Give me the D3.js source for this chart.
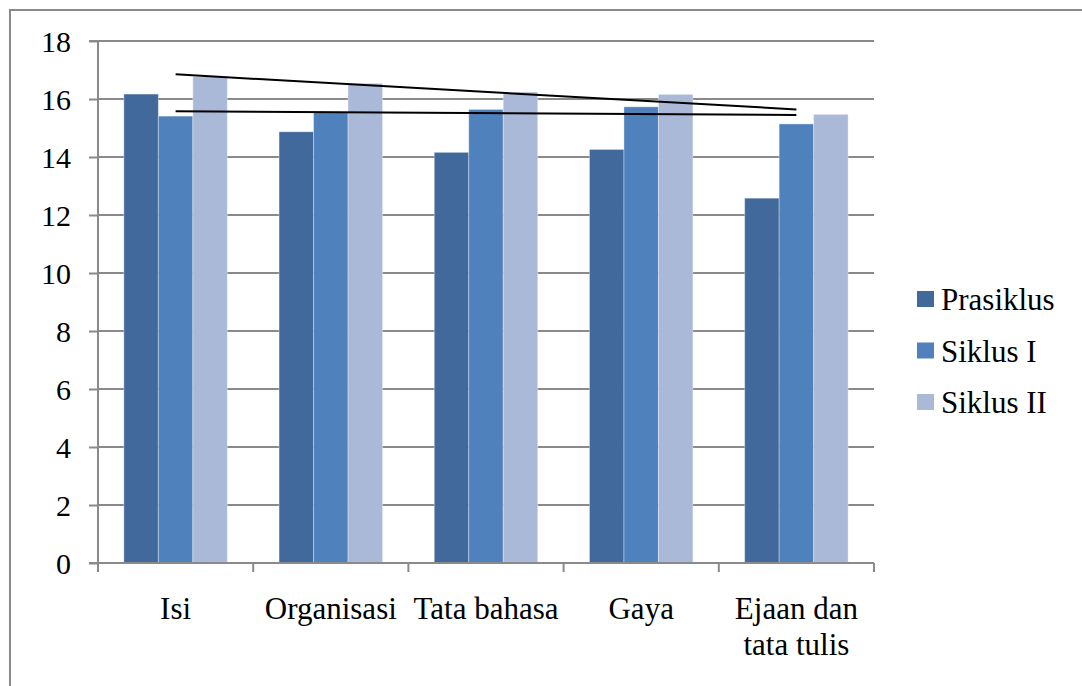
<!DOCTYPE html>
<html>
<head>
<meta charset="utf-8">
<script src="https://cdn.jsdelivr.net/npm/d3@7"></script>
<style>
  html, body { margin: 0; padding: 0; background: #fff; }
  svg { display: block; }
</style>
</head>
<body>
<svg id="chart" width="1082" height="686" font-family="Liberation Serif"></svg>
<script>
// ---- data ----
const categories = ["Isi", "Organisasi", "Tata bahasa", "Gaya", "Ejaan dan tata tulis"];
const categoryLabelLines = [["Isi"], ["Organisasi"], ["Tata bahasa"], ["Gaya"], ["Ejaan dan", "tata tulis"]];
const seriesNames = ["Prasiklus", "Siklus I", "Siklus II"];
const prasiklus = [16.17, 14.87, 14.16, 14.26, 12.58];
const siklusI = [15.41, 15.53, 15.64, 15.73, 15.14];
const siklusII = [16.77, 16.54, 16.24, 16.16, 15.47];
const yTickValues = [0, 2, 4, 6, 8, 10, 12, 14, 16, 18];
// hand-drawn lines: value at first category centre and at last category centre
const upperLine = [16.85, 15.64];
const lowerLine = [15.58, 15.45];

const seriesValues = [prasiklus, siklusI, siklusII];
const colors = ["#41699C", "#4F81BD", "#AAB9D7"];

// ---- layout ----
const svg = d3.select("#chart");
const plotLeft = 98, plotRight = 874, plotTop = 41, plotBottom = 563;
const fontFamily = "Liberation Serif";
const fontSize = 31;
const tickFontSize = 30;
const gridColor = "#8a8a8a";

// outer frame
svg.append("rect")
  .attr("x", 10).attr("y", 10).attr("width", 1200).attr("height", 800)
  .attr("fill", "none").attr("stroke", "#8a8a8a").attr("stroke-width", 2);

const x = d3.scaleBand().domain(categories).range([plotLeft, plotRight]).paddingInner(0).paddingOuter(0);
const bw = x.bandwidth();
const x1 = d3.scaleBand().domain(seriesNames).range([bw / 6, bw * 5 / 6]).padding(0);
const y = d3.scaleLinear().domain([0, 18]).range([plotBottom, plotTop]);

// gridlines
svg.append("g").selectAll("line").data(yTickValues.filter(d => d > 0)).join("line")
  .attr("x1", plotLeft).attr("x2", plotRight)
  .attr("y1", d => y(d)).attr("y2", d => y(d))
  .attr("stroke", gridColor).attr("stroke-width", 2);

// y axis
const yAxis = d3.axisLeft(y).tickValues(yTickValues).tickSize(9).tickPadding(18).tickFormat(d3.format("d"));
const gy = svg.append("g").attr("transform", `translate(${plotLeft},0)`).call(yAxis)
  .attr("font-family", fontFamily).attr("font-size", tickFontSize);
gy.select(".domain").attr("stroke", gridColor).attr("stroke-width", 2).attr("d", `M-9,${y(18)}H0V${y(0)}H-9`);
gy.selectAll(".tick line").attr("stroke", gridColor).attr("stroke-width", 2);
gy.selectAll(".tick text")
  .attr("font-family", fontFamily)
  .attr("font-size", tickFontSize).attr("fill", "#000").attr("dy", "0.35em");

// bars
const barG = svg.append("g");
categories.forEach((c, i) => {
  seriesNames.forEach((s, j) => {
    const v = seriesValues[j][i];
    barG.append("rect")
      .attr("x", x(c) + x1(s))
      .attr("y", y(v))
      .attr("width", x1.bandwidth())
      .attr("height", y(0) - y(v))
      .attr("fill", colors[j])
      .attr("stroke", "rgba(255,255,255,0.35)")
      .attr("stroke-width", 1);
  });
});

// x axis line and ticks
const bounds = categories.map(c => x(c)).concat([x.range()[1]]);
svg.append("line").attr("x1", plotLeft).attr("x2", plotRight).attr("y1", y(0)).attr("y2", y(0))
  .attr("stroke", gridColor).attr("stroke-width", 2);
svg.append("g").selectAll("line").data(bounds).join("line")
  .attr("x1", d => d).attr("x2", d => d).attr("y1", y(0)).attr("y2", y(0) + 9)
  .attr("stroke", gridColor).attr("stroke-width", 2);

// category labels
categories.forEach((c, i) => {
  const t = svg.append("text")
    .attr("x", x(c) + bw / 2)
    .attr("text-anchor", "middle")
    .attr("font-family", fontFamily)
    .attr("font-size", fontSize)
    .attr("fill", "#000");
  categoryLabelLines[i].forEach((ln, k) => {
    t.append("tspan").attr("x", x(c) + bw / 2).attr("y", 619 + k * 36).text(ln);
  });
});

// hand-drawn lines
const cx0 = x(categories[0]) + bw / 2;
const cx1 = x(categories[categories.length - 1]) + bw / 2;
[upperLine, lowerLine].forEach(l => {
  svg.append("line")
    .attr("x1", cx0).attr("y1", y(l[0]))
    .attr("x2", cx1).attr("y2", y(l[1]))
    .attr("stroke", "#000").attr("stroke-width", 2);
});

// legend
const lg = svg.append("g");
seriesNames.forEach((s, j) => {
  const cy = 299 + j * 51.5;
  lg.append("rect").attr("x", 917).attr("y", cy - 8).attr("width", 17).attr("height", 16)
    .attr("fill", colors[j]);
  lg.append("text").attr("x", 941).attr("y", cy + 11)
    .attr("font-family", fontFamily)
    .attr("font-size", fontSize).attr("fill", "#000").text(s);
});
</script>
</body>
</html>
